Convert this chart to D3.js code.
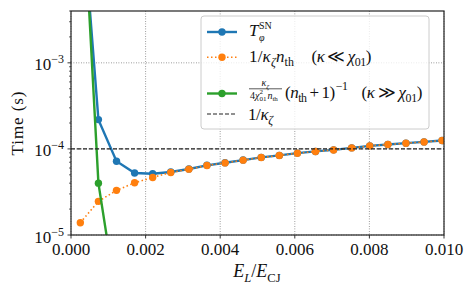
<!DOCTYPE html>
<meta charset="utf-8">
<head>
    <title></title>
    <script src="https://cdn.jsdelivr.net/npm/d3@7"></script>
</head>
<style>
    body{ margin:0; background:#fff; }
    svg{ font-family: "Liberation Serif", "DejaVu Serif", serif; }
    text{ fill:#111; }
</style>
<svg width="471" height="289"></svg>
<script>
    // data
    var xVals = [0.00025, 0.000735, 0.00122, 0.001705, 0.00219, 0.002675, 0.00316, 0.003645, 0.00413, 0.004615,
                 0.0051, 0.005585, 0.00607, 0.006555, 0.00704, 0.007525, 0.00801, 0.008495, 0.00898, 0.009465, 0.00995];
    var tSN = [0.11, 2.19e-4, 7.2e-5, 5.25e-5, 5.15e-5, 5.4e-5, 5.85e-5, 6.45e-5, 6.9e-5, 7.42e-5,
               7.97e-5, 8.41e-5, 8.94e-5, 9.35e-5, 9.75e-5, 1.029e-4, 1.086e-4, 1.127e-4, 1.166e-4, 1.207e-4, 1.252e-4];
    var lowKappa = [1.39e-5, 2.46e-5, 3.3e-5, 4.04e-5, 4.66e-5, 5.33e-5, 5.82e-5, 6.42e-5, 6.88e-5, 7.4e-5,
                    7.95e-5, 8.39e-5, 8.92e-5, 9.33e-5, 9.73e-5, 1.027e-4, 1.084e-4, 1.125e-4, 1.164e-4, 1.205e-4, 1.25e-4];
    var highKappa = [0.33, 4.0e-5, 1.8e-6];
    var invKappa = 1e-4;
    var xTicks = [0, 0.002, 0.004, 0.006, 0.008, 0.010];
    var yMajor = [1e-5, 1e-4, 1e-3];
    var yMinor = [2e-5,3e-5,4e-5,5e-5,6e-5,7e-5,8e-5,9e-5,2e-4,3e-4,4e-4,5e-4,6e-4,7e-4,8e-4,9e-4,2e-3,3e-3,4e-3];

    var blue = '#1f77b4', orange = '#ff7f0e', green = '#2ca02c';
    var L = 71, R = 444, T = 11, B = 235;

    var svg = d3.select('svg');
    var x = d3.scaleLinear().domain([0, 0.010]).range([L, R]);
    var y = d3.scaleLog().domain([1e-5, 4e-3]).range([B, T]);

    svg.append('clipPath').attr('id','clip').append('rect')
        .attr('x', L).attr('y', T).attr('width', R-L).attr('height', B-T);

    // grid
    svg.append('g').selectAll('line').data(xTicks).enter().append('line')
        .attr('x1', function(d){ return x(d); }).attr('x2', function(d){ return x(d); })
        .attr('y1', T).attr('y2', B)
        .style('stroke','#666').style('stroke-width',0.8).style('stroke-dasharray','0.8,1.7');
    svg.append('g').selectAll('line').data(yMajor).enter().append('line')
        .attr('y1', function(d){ return y(d); }).attr('y2', function(d){ return y(d); })
        .attr('x1', L).attr('x2', R)
        .style('stroke','#666').style('stroke-width',0.8).style('stroke-dasharray','0.8,1.7');

    var plot = svg.append('g').attr('clip-path','url(#clip)');

    function series(vals, color, dash, width){
        var pts = vals.map(function(v,i){ return [xVals[i], v]; });
        var line = d3.line().x(function(d){ return x(d[0]); }).y(function(d){ return y(d[1]); });
        plot.append('path').datum(pts).attr('d', line)
            .style('fill','none').style('stroke', color).style('stroke-width', width)
            .style('stroke-dasharray', dash);
        plot.append('g').selectAll('circle').data(pts).enter().append('circle')
            .attr('cx', function(d){ return x(d[0]); }).attr('cy', function(d){ return y(d[1]); })
            .attr('r', 3.7).style('fill', color);
    }
    series(tSN, blue, null, 2.4);
    series(lowKappa, orange, '1.5,2.5', 1.6);
    series(highKappa, green, null, 2.4);

    plot.append('line').attr('x1', L).attr('x2', R).attr('y1', y(invKappa)).attr('y2', y(invKappa))
        .style('stroke','#222').style('stroke-width',1.1).style('stroke-dasharray','4,2');

    // ticks
    var axes = svg.append('g').style('stroke','#222');
    axes.selectAll('.xt').data(xTicks).enter().append('line')
        .attr('x1', function(d){ return x(d); }).attr('x2', function(d){ return x(d); })
        .attr('y1', B).attr('y2', B+3.5).style('stroke-width',0.9);
    axes.selectAll('.ymaj').data(yMajor).enter().append('line')
        .attr('y1', function(d){ return y(d); }).attr('y2', function(d){ return y(d); })
        .attr('x1', L-3.5).attr('x2', L).style('stroke-width',0.9);
    axes.selectAll('.ymin').data(yMinor).enter().append('line')
        .attr('y1', function(d){ return y(d); }).attr('y2', function(d){ return y(d); })
        .attr('x1', L-2).attr('x2', L).style('stroke-width',0.7);
    svg.append('rect').attr('x', L).attr('y', T).attr('width', R-L).attr('height', B-T)
        .style('fill','none').style('stroke','#222').style('stroke-width',1.2);

    svg.append('g').selectAll('text').data(xTicks).enter().append('text')
        .attr('x', function(d){ return x(d); }).attr('y', 255)
        .attr('text-anchor','middle').style('font-size','17px')
        .text(d3.format('.3f'));

    var yl = svg.append('g').selectAll('text').data(yMajor).enter().append('text')
        .attr('x', 64).attr('y', function(d){ return y(d) + 7.5; })
        .attr('text-anchor','end').style('font-size','17px');
    yl.append('tspan').text('10');
    yl.append('tspan').attr('dy', -7).style('font-size','12px')
        .text(function(d){ return '\u2212' + Math.round(-Math.log10(d)); });

    // math-ish text helper: parts [text, flags, dx] with i=italic, b=subscript, p=superscript
    function mtext(g, x0, y0, fs, parts, len){
        var t = g.append('text').attr('x', x0).attr('y', y0).style('font-size', fs + 'px');
        var cur = 0;
        parts.forEach(function(p){
            var f = p[1] || '', off = 0, size = fs;
            if(f.indexOf('b') >= 0){ off = fs*0.25; size = fs*0.7; }
            if(f.indexOf('p') >= 0){ off = -fs*0.42; size = fs*0.7; }
            var s = t.append('tspan').attr('dy', off - cur).style('font-size', size + 'px').text(p[0]);
            if(f.indexOf('i') >= 0) s.style('font-style','italic');
            if(p[2] === 'back') s.attr('dx', -t.node().lastChild.previousSibling.getComputedTextLength());
            else if(p[2]) s.attr('dx', p[2]);
            cur = off;
        });
        if(len) t.attr('textLength', len).attr('lengthAdjust', 'spacing');
        return t;
    }

    // axis labels
    mtext(svg, 257, 277, 18, [['E','i'],['L','ib'],['/',''],['E','i'],['CJ','b']])
        .attr('text-anchor','middle');
    svg.append('text').attr('transform','translate(23,123.5) rotate(-90)')
        .attr('text-anchor','middle').style('font-size','17px')
        .attr('textLength', 64).attr('lengthAdjust','spacing').text('Time (s)');

    // legend
    var lg = svg.append('g');
    lg.append('rect').attr('x', 201).attr('y', 16).attr('width', 228).attr('height', 113).attr('rx', 3)
        .style('fill','#fff').style('fill-opacity',0.8).style('stroke','#ccc').style('stroke-width',1);
    var rows = [
        {y:32, color:blue, dash:null, w:2.4, dot:true},
        {y:57.3, color:orange, dash:'1.5,2.5', w:1.6, dot:true},
        {y:93.5, color:green, dash:null, w:2.4, dot:true},
        {y:114, color:'#222', dash:'4,2', w:1.1, dot:false}
    ];
    rows.forEach(function(r){
        lg.append('line').attr('x1', 207).attr('x2', 237).attr('y1', r.y).attr('y2', r.y)
            .style('stroke', r.color).style('stroke-width', r.w).style('stroke-dasharray', r.dash);
        if(r.dot) lg.append('circle').attr('cx', 222).attr('cy', r.y).attr('r', 3.7).style('fill', r.color);
    });

    // T^SN_phi
    mtext(lg, 249, 35.5, 17, [['T','i']]);
    mtext(lg, 259, 29, 10, [['SN','']]);
    mtext(lg, 259, 40.5, 10, [['\u03c6','i']]);

    mtext(lg, 249, 62, 17, [['1/',''],['\u03ba','i'],['\u03b6','ib'],['n','i'],['th','b']], 45);
    mtext(lg, 311.5, 62, 17, [['(',''],['\u03ba','i'],['\u2009\u226a\u2009',''],['\u03c7','i'],['01','b'],[')','']], 60);

    mtext(lg, 261.5, 86, 10, [['\u03ba','i'],['\u03b6','ib']]);
    lg.append('line').attr('x1', 249).attr('x2', 282).attr('y1', 88.8).attr('y2', 88.8)
        .style('stroke','#111').style('stroke-width',0.7);
    mtext(lg, 250, 98.5, 10, [['4',''],['\u03c7','i'],['2','p'],['01','b','back'],['n','i',1],['th','b']]);
    mtext(lg, 285, 97.5, 17, [['(',''],['n','i'],['th','b'],['\u2009+\u20091)',''],['\u22121','p',1]], 63);
    mtext(lg, 361.5, 97.5, 17, [['(',''],['\u03ba','i'],['\u2009\u226b\u2009',''],['\u03c7','i'],['01','b'],[')','']], 61);

    mtext(lg, 248, 119.5, 17, [['1/',''],['\u03ba','i'],['\u03b6','ib']], 25);
</script>
